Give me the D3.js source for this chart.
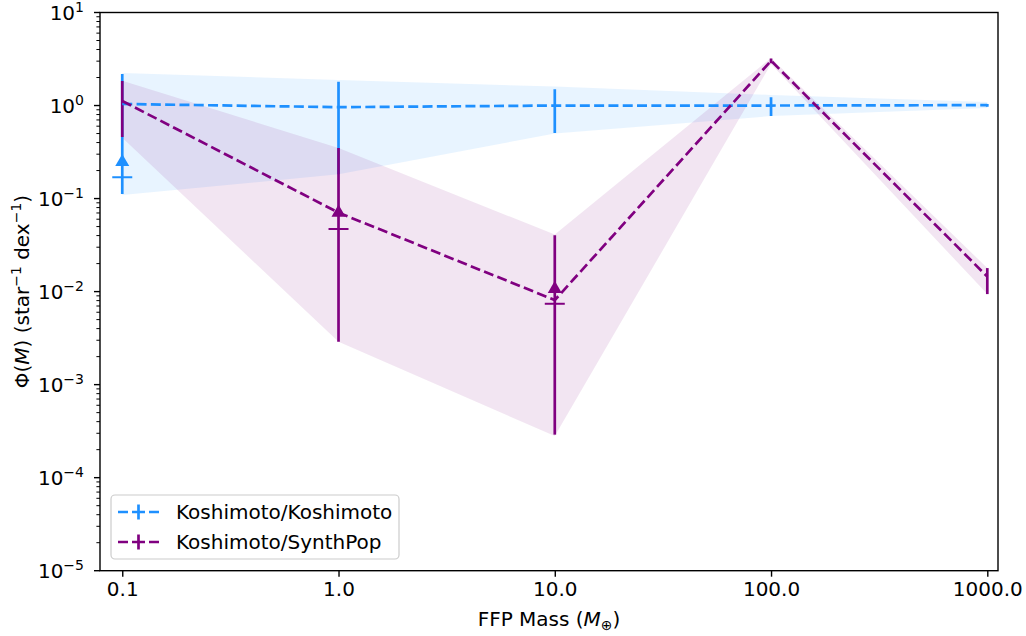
<!DOCTYPE html>
<html><head><meta charset="utf-8">
<script src="https://cdn.jsdelivr.net/npm/d3@7"></script>
<style>body{margin:0;background:#fff}svg{display:block;font-family:"DejaVu Sans",sans-serif}</style>
</head><body><svg id="c" width="1026" height="636"></svg>
<script>
const masses = [0.1, 1, 10, 100, 1000];
const xTickLabels = ["0.1", "1.0", "10.0", "100.0", "1000.0"];
const yTickExps = [1, 0, -1, -2, -3, -4, -5];
// Koshimoto/Koshimoto
const kkLine = [1.04, 0.96, 1.0, 1.0, 1.01];
const kkErrLo = [0.112, 0.182, 0.506, 0.77, 0.97];
const kkErrHi = [2.18, 1.8, 1.5, 1.23, 1.04];
const kkBandLo = [0.109, 0.182, 0.50, 0.77, 0.94];
const kkBandHi = [2.24, 1.88, 1.6, 1.3, 1.09];
const kkTriX = [0.1], kkTriY = [0.247];
const kkCapX = [0.1], kkCapY = [0.170];
// Koshimoto/SynthPop
const ksLine = [1.12, 0.0706, 0.0081, 3.03, 0.0145];
const ksErrLo = [0.46, 0.00289, 0.00029, 2.85, 0.0094];
const ksErrHi = [1.83, 0.35, 0.0404, 3.2, 0.0179];
const ksBandLo = [0.45, 0.00289, 0.00028, 2.8, 0.0094];
const ksBandHi = [1.85, 0.35, 0.041, 3.25, 0.0179];
const ksTriX = [1, 10], ksTriY = [0.0706, 0.0107];
const ksCapX = [1, 10], ksCapY = [0.047, 0.0074];
const seriesNames = ["Koshimoto/Koshimoto", "Koshimoto/SynthPop"];
const colors = ["#1e90ff", "#800080"];

const L = 100, R = 998, T = 12.5, B = 570.7;
const x = d3.scaleLog().domain([0.0789, 1120.6]).range([L, R]);
const y = d3.scaleLog().domain([1e-5, 10]).range([B, T]);
const svg = d3.select("#c");
const FS = 20;

const series = [
  {line: kkLine, lo: kkErrLo, hi: kkErrHi, bLo: kkBandLo, bHi: kkBandHi, tx: kkTriX, ty: kkTriY, cx: kkCapX, cy: kkCapY, col: colors[0]},
  {line: ksLine, lo: ksErrLo, hi: ksErrHi, bLo: ksBandLo, bHi: ksBandHi, tx: ksTriX, ty: ksTriY, cx: ksCapX, cy: ksCapY, col: colors[1]}
];
const plot = svg.append("g");
plot.append("defs").append("clipPath").attr("id","clip").append("rect").attr("x",L).attr("y",T).attr("width",R-L).attr("height",B-T);
const inner = plot.append("g").attr("clip-path","url(#clip)");
// bands
series.forEach(s => {
  const area = d3.area().x((d,i)=>x(masses[i])).y0((d,i)=>y(s.bLo[i])).y1((d,i)=>y(s.bHi[i]));
  inner.append("path").attr("d", area(masses)).attr("fill", s.col).attr("fill-opacity", 0.1);
});
// error bars
series.forEach(s => {
  masses.forEach((m,i) => {
    inner.append("line").attr("x1",x(m)).attr("x2",x(m)).attr("y1",y(s.lo[i])).attr("y2",y(s.hi[i]))
      .attr("stroke",s.col).attr("stroke-width",2.7);
  });
});
// markers
series.forEach(s => {
  s.tx.forEach((m,i) => {
    inner.append("path").attr("d", d3.symbol(d3.symbolTriangle, 85)())
      .attr("transform",`translate(${x(m)},${y(s.ty[i])})`).attr("fill", s.col);
  });
  s.cx.forEach((m,i) => {
    inner.append("line").attr("x1",x(m)-10).attr("x2",x(m)+10).attr("y1",y(s.cy[i])).attr("y2",y(s.cy[i]))
      .attr("stroke",s.col).attr("stroke-width",2);
  });
});
// dashed lines
series.forEach(s => {
  const ln = d3.line().x((d,i)=>x(masses[i])).y(d=>y(d));
  inner.append("path").attr("d", ln(s.line)).attr("fill","none").attr("stroke",s.col)
    .attr("stroke-width",2.7).attr("stroke-dasharray","10,4.3");
});

// axes
const xAxis = d3.axisBottom(x).tickValues(masses).tickFormat((d,i)=>xTickLabels[i]).tickSize(6).tickPadding(5);
const gx = svg.append("g").attr("transform",`translate(0,${B})`).call(xAxis);
gx.select(".domain").remove();
gx.selectAll("line").attr("stroke","#000").attr("stroke-width",1.4);
gx.selectAll("text").attr("font-size",FS).attr("fill","#000").attr("font-family","DejaVu Sans");

// y axis ticks (major + minor)
const gy = svg.append("g");
const minor = [];
for (let e = -5; e < 1; e++) for (let k = 2; k <= 9; k++) minor.push(k * Math.pow(10, e));
gy.selectAll(".mn").data(minor).join("line").attr("x1",L).attr("x2",L-3.6).attr("y1",d=>y(d)).attr("y2",d=>y(d))
  .attr("stroke","#000").attr("stroke-width",1);
gy.selectAll(".mj").data(yTickExps).join("line").attr("x1",L).attr("x2",L-6).attr("y1",d=>y(Math.pow(10,d))).attr("y2",d=>y(Math.pow(10,d)))
  .attr("stroke","#000").attr("stroke-width",1.4);
gy.selectAll(".lab").data(yTickExps).join("text").attr("x",L-16).attr("y",d=>y(Math.pow(10,d))+7)
  .attr("text-anchor","end").attr("font-size",FS).attr("fill","#000")
  .each(function(d){
    const t = d3.select(this);
    t.append("tspan").text("10");
    t.append("tspan").attr("dy",-8).attr("font-size",FS*0.7).text(d<0 ? "\u2212"+(-d) : ""+d);
  });

// frame
svg.append("rect").attr("x",L).attr("y",T).attr("width",R-L).attr("height",B-T)
  .attr("fill","none").attr("stroke","#000").attr("stroke-width",1.4);

// axis labels
const xl = svg.append("text").attr("x",(L+R)/2).attr("y",626).attr("text-anchor","middle").attr("font-size",FS);
xl.append("tspan").text("FFP Mass (");
xl.append("tspan").attr("font-style","italic").text("M");
xl.append("tspan").attr("font-size",FS*0.7).attr("dy",4).text("\u2295");
xl.append("tspan").attr("dy",-4).text(")");

const yl = svg.append("text").attr("transform",`translate(29,${(T+B)/2}) rotate(-90)`).attr("text-anchor","middle").attr("font-size",FS);
yl.append("tspan").text("\u03a6(");
yl.append("tspan").attr("font-style","italic").text("M");
yl.append("tspan").text(") (star");
yl.append("tspan").attr("font-size",FS*0.7).attr("dy",-8).text("\u22121");
yl.append("tspan").attr("dy",8).text(" dex");
yl.append("tspan").attr("font-size",FS*0.7).attr("dy",-8).text("\u22121");
yl.append("tspan").attr("dy",8).text(")");

// legend
const lg = svg.append("g");
lg.append("rect").attr("x",111).attr("y",495).attr("width",288).attr("height",64).attr("rx",4)
  .attr("fill","#fff").attr("fill-opacity",0.8).attr("stroke","#cccccc").attr("stroke-width",1.2);
seriesNames.forEach((nm,i) => {
  const cy = 512 + i*30;
  lg.append("line").attr("x1",118).attr("x2",159).attr("y1",cy).attr("y2",cy).attr("stroke",colors[i])
    .attr("stroke-width",2.7).attr("stroke-dasharray","10,4,13,4,10");
  lg.append("line").attr("x1",138.5).attr("x2",138.5).attr("y1",cy-7.5).attr("y2",cy+7.5).attr("stroke",colors[i]).attr("stroke-width",2.7);
  lg.append("text").attr("x",176).attr("y",cy+7).attr("font-size",FS).text(nm);
});
</script></body></html>
